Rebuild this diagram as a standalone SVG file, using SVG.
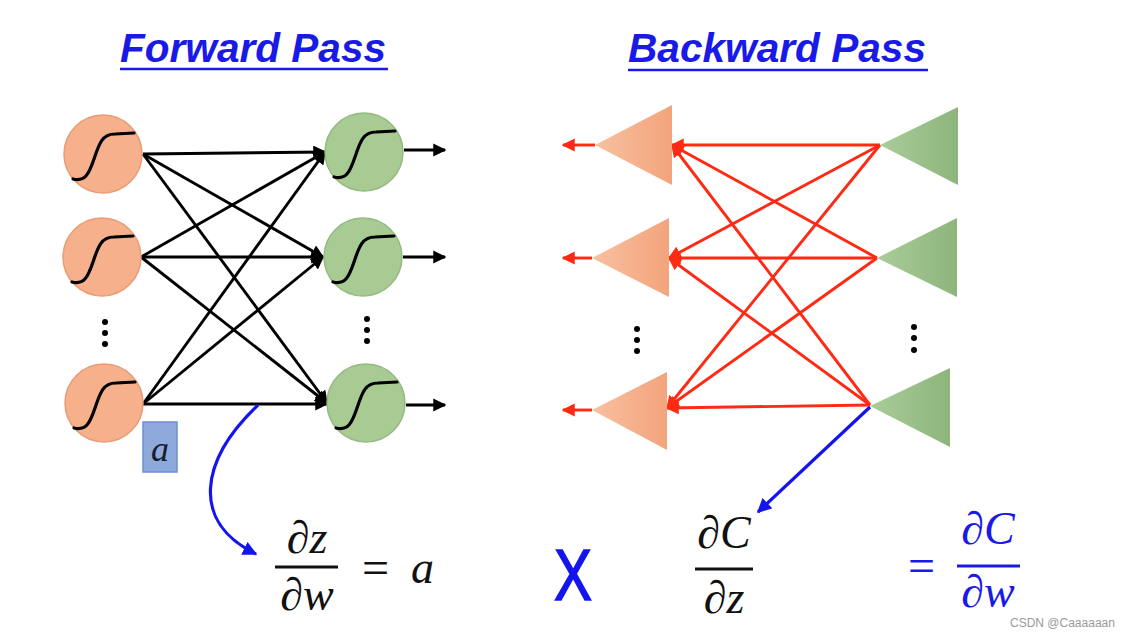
<svg xmlns="http://www.w3.org/2000/svg" width="1140" height="638" viewBox="0 0 1140 638">
<defs>
<style>
.title{font-family:"Liberation Sans","DejaVu Sans",sans-serif;font-weight:bold;font-style:italic;font-size:40px;fill:#1a1ae6}
.ul{stroke:#1a1ae6;stroke-width:2.5}
.oc{fill:#F6B08C;stroke:#E99C74;stroke-width:1.5}
.gc{fill:#A8CB94;stroke:#93BA80;stroke-width:1.5}
.sig{fill:none;stroke:#000;stroke-width:3.2;stroke-linecap:round}
.fw{stroke:#000;stroke-width:2.9;fill:none}
.bw{stroke:#FF2A14;stroke-width:2.9;fill:none}
.blue{stroke:#1414EE;stroke-width:3.2;fill:none}
.dot{fill:#000}
.math{font-family:"Liberation Serif","DejaVu Serif",serif;font-style:italic;font-size:46px;fill:#111}
.mathb{font-family:"Liberation Serif","DejaVu Serif",serif;font-style:italic;font-size:46px;fill:#1a1ae6}
.eq{font-family:"Liberation Serif","DejaVu Serif",serif;font-size:48px}
</style>
<marker id="ab" viewBox="0 0 10 10" refX="9" refY="5" markerWidth="4.5" markerHeight="4.5" orient="auto" markerUnits="strokeWidth"><path d="M0,0 L10,5 L0,10 Z" fill="#000"/></marker>
<marker id="ar" viewBox="0 0 10 10" refX="9" refY="5" markerWidth="4.5" markerHeight="4.5" orient="auto" markerUnits="strokeWidth"><path d="M0,0 L10,5 L0,10 Z" fill="#FF2A14"/></marker>
<marker id="au" viewBox="0 0 10 10" refX="9" refY="5" markerWidth="4.5" markerHeight="4.5" orient="auto" markerUnits="strokeWidth"><path d="M0,0 L10,5 L0,10 Z" fill="#1414EE"/></marker>
<linearGradient id="og" x1="0" y1="0" x2="1" y2="0"><stop offset="0" stop-color="#F8C0A0"/><stop offset="1" stop-color="#F3A47C"/></linearGradient>
<linearGradient id="gg" x1="0" y1="0" x2="1" y2="0"><stop offset="0" stop-color="#AACC9A"/><stop offset="1" stop-color="#8DB57B"/></linearGradient>
<path id="s" d="M-30,25 C-18,28 -14,20 -9,5 C-4,-10 -1,-20 12,-20 L31,-21"/>
</defs>
<rect width="1140" height="638" fill="#fff"/>

<g id="title-forward">
<text class="title" x="120" y="62" textLength="266" lengthAdjust="spacingAndGlyphs">Forward Pass</text>
<line class="ul" x1="120" y1="69" x2="388" y2="69"/>
</g>
<g id="title-backward">
<text class="title" x="628" y="62" textLength="298" lengthAdjust="spacingAndGlyphs">Backward Pass</text>
<line class="ul" x1="628" y1="70" x2="928" y2="70"/>
</g>

<g id="connectors">
<line class="fw" x1="143" y1="154" x2="325" y2="152" marker-end="url(#ab)"/>
<line class="fw" x1="143" y1="154" x2="323" y2="257" marker-end="url(#ab)"/>
<line class="fw" x1="143" y1="154" x2="327" y2="403" marker-end="url(#ab)"/>
<line class="fw" x1="141" y1="257" x2="325" y2="152" marker-end="url(#ab)"/>
<line class="fw" x1="141" y1="257" x2="323" y2="257" marker-end="url(#ab)"/>
<line class="fw" x1="141" y1="257" x2="327" y2="403" marker-end="url(#ab)"/>
<line class="fw" x1="143" y1="404" x2="325" y2="152" marker-end="url(#ab)"/>
<line class="fw" x1="143" y1="404" x2="323" y2="257" marker-end="url(#ab)"/>
<line class="fw" x1="143" y1="404" x2="327" y2="404" marker-end="url(#ab)"/>
<line class="fw" x1="404" y1="150" x2="445" y2="150" marker-end="url(#ab)"/>
<line class="fw" x1="403" y1="257" x2="445" y2="257" marker-end="url(#ab)"/>
<line class="fw" x1="406" y1="405" x2="445" y2="405" marker-end="url(#ab)"/>
<line class="bw" x1="880" y1="145" x2="672" y2="145" marker-end="url(#ar)"/>
<line class="bw" x1="880" y1="145" x2="669" y2="258" marker-end="url(#ar)"/>
<line class="bw" x1="880" y1="145" x2="667" y2="408" marker-end="url(#ar)"/>
<line class="bw" x1="877" y1="258" x2="672" y2="145" marker-end="url(#ar)"/>
<line class="bw" x1="877" y1="258" x2="669" y2="258" marker-end="url(#ar)"/>
<line class="bw" x1="877" y1="258" x2="667" y2="408" marker-end="url(#ar)"/>
<line class="bw" x1="870" y1="405" x2="672" y2="145" marker-end="url(#ar)"/>
<line class="bw" x1="870" y1="405" x2="669" y2="258" marker-end="url(#ar)"/>
<line class="bw" x1="870" y1="405" x2="667" y2="408" marker-end="url(#ar)"/>
<line class="bw" x1="595" y1="145" x2="563" y2="145" marker-end="url(#ar)"/>
<line class="bw" x1="592" y1="258" x2="563" y2="258" marker-end="url(#ar)"/>
<line class="bw" x1="592" y1="410" x2="563" y2="410" marker-end="url(#ar)"/>
<path class="blue" d="M258,405 C200,460 190,522 256,554" marker-end="url(#au)"/>
<line class="blue" x1="870" y1="407" x2="758" y2="512" marker-end="url(#au)"/>
</g>

<g id="in1"><circle class="oc" cx="103" cy="154" r="39"/><use href="#s" class="sig" transform="translate(103,154)"/></g>
<g id="in2"><circle class="oc" cx="102" cy="257" r="39"/><use href="#s" class="sig" transform="translate(102,257)"/></g>
<g id="in3"><circle class="oc" cx="104" cy="403" r="39"/><use href="#s" class="sig" transform="translate(104,403)"/></g>
<g id="out1"><circle class="gc" cx="364" cy="152" r="39"/><use href="#s" class="sig" transform="translate(364,152)"/></g>
<g id="out2"><circle class="gc" cx="363" cy="257" r="39"/><use href="#s" class="sig" transform="translate(363,257)"/></g>
<g id="out3"><circle class="gc" cx="366" cy="403" r="39"/><use href="#s" class="sig" transform="translate(366,403)"/></g>

<g id="dots-fw">
<circle class="dot" cx="105" cy="322" r="3"/><circle class="dot" cx="105" cy="333" r="3"/><circle class="dot" cx="105" cy="344" r="3"/>
<circle class="dot" cx="367" cy="319" r="3"/><circle class="dot" cx="367" cy="330" r="3"/><circle class="dot" cx="367" cy="341" r="3"/>
</g>

<g id="box-a">
<rect x="143" y="422" width="34" height="50" fill="#8EA9DB" stroke="#6F8FCF" stroke-width="1.5"/>
<text x="160" y="461" text-anchor="middle" style="font-family:'Liberation Serif','DejaVu Serif',serif;font-style:italic;font-size:36px;fill:#1b1b2e">a</text>
</g>

<g id="tri-o1"><polygon points="595,145 672,105 672,185" fill="url(#og)"/></g>
<g id="tri-o2"><polygon points="592,258 669,218 669,297" fill="url(#og)"/></g>
<g id="tri-o3"><polygon points="592,410 667,372 667,450" fill="url(#og)"/></g>
<g id="tri-g1"><polygon points="880,145 958,107 958,185" fill="url(#gg)"/></g>
<g id="tri-g2"><polygon points="877,258 957,218 957,297" fill="url(#gg)"/></g>
<g id="tri-g3"><polygon points="870,406 950,368 950,447" fill="url(#gg)"/></g>

<g id="dots-bw">
<circle class="dot" cx="637" cy="329" r="3"/><circle class="dot" cx="637" cy="340" r="3"/><circle class="dot" cx="637" cy="351" r="3"/>
<circle class="dot" cx="914" cy="327" r="3"/><circle class="dot" cx="914" cy="338" r="3"/><circle class="dot" cx="914" cy="350" r="3"/>
</g>

<g id="eq-dzdw">
<text class="math" x="307" y="553" text-anchor="middle">∂z</text>
<line x1="275" y1="567" x2="338" y2="567" stroke="#111" stroke-width="3"/>
<text class="math" x="307" y="610" text-anchor="middle">∂w</text>
<text class="eq" x="362" y="584" fill="#111">=</text>
<text class="math" x="411" y="583">a</text>
</g>

<g id="times">
<text x="573" y="600" text-anchor="middle" textLength="38" lengthAdjust="spacingAndGlyphs" stroke="#1414EE" stroke-width="1.6" style="font-family:'Liberation Sans','DejaVu Sans',sans-serif;font-size:72px;fill:#1414EE">X</text>
</g>

<g id="eq-dcdz">
<text class="math" x="724" y="548" text-anchor="middle">∂C</text>
<line x1="695" y1="569" x2="753" y2="569" stroke="#111" stroke-width="3"/>
<text class="math" x="724" y="613" text-anchor="middle">∂z</text>
</g>

<g id="eq-dcdw">
<text class="eq" x="908" y="582" fill="#1a1ae6">=</text>
<text class="mathb" x="988" y="544" text-anchor="middle">∂C</text>
<line x1="957" y1="566" x2="1020" y2="566" stroke="#1a1ae6" stroke-width="3"/>
<text class="mathb" x="988" y="607" text-anchor="middle">∂w</text>
</g>

<text x="1010" y="627" style="font-family:'Liberation Sans','DejaVu Sans',sans-serif;font-size:12px;fill:#9a9a9a">CSDN @Caaaaaan</text>
</svg>
